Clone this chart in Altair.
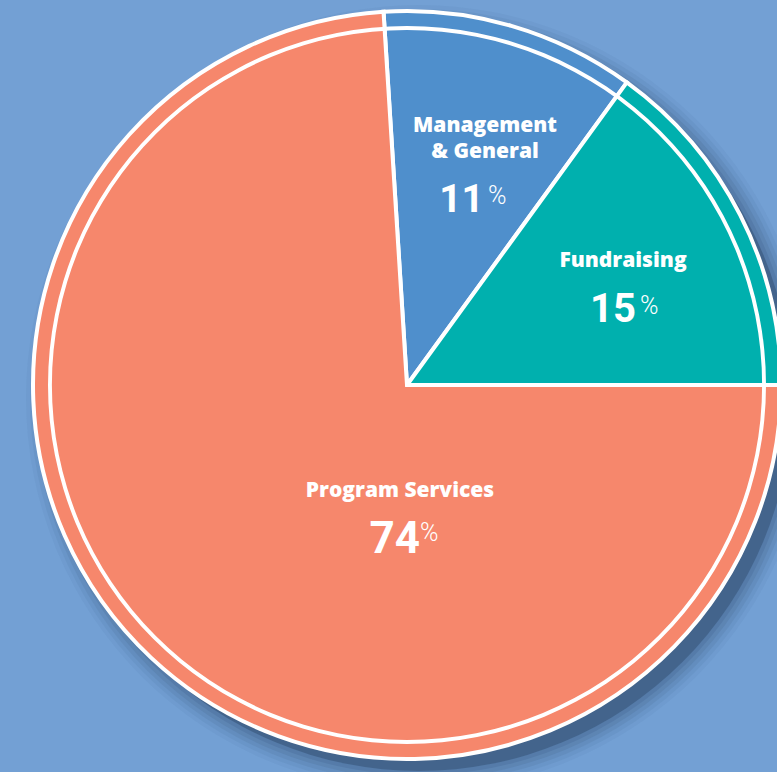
import math
import altair as alt
import pandas as pd

# ---- data ----
categories = ["Management & General", "Fundraising", "Program Services"]
percents = [11, 15, 74]
slice_colors = ["#4F8FCC", "#00B0AE", "#F6876C"]

W, H = 777, 772
CX, CY = 407, 385
R = 374
START = -3.6 * math.pi / 180

df = pd.DataFrame({"category": categories, "value": percents, "order": list(range(len(categories)))})
one = pd.DataFrame({"k": [0]})

# shadow (faked blur with stacked translucent discs)
shadow_layers = []
for r, op in [(373, 0.45), (377, 0.15), (381, 0.12), (385, 0.1), (389, 0.07), (393, 0.05)]:
    shadow_layers.append(
        alt.Chart(one).mark_arc(theta=0, theta2=2 * math.pi, radius=r, color="#2E4A6E", opacity=op)
        .encode(x=alt.value(CX + 12), y=alt.value(CY + 13))
    )

pie = alt.Chart(df).mark_arc(radius=R, stroke="white", strokeWidth=4).encode(
    theta=alt.Theta("value:Q", stack=True, scale=alt.Scale(range=[START, START + 2 * math.pi])),
    order=alt.Order("order:Q"),
    color=alt.Color("category:N", scale=alt.Scale(domain=categories, range=slice_colors), legend=None),
    x=alt.value(CX), y=alt.value(CY),
)

ring = alt.Chart(one).mark_arc(theta=0, theta2=2 * math.pi, radius=359, radius2=355, color="white").encode(
    x=alt.value(CX), y=alt.value(CY)
)

LABEL_FONT = "Open Sans"
NUM_FONT = "Roboto"


def txt(text, x, y, size, font, weight="bold", align="center", baseline="alphabetic"):
    return alt.Chart(one).mark_text(
        text=text, font=font, fontSize=size, fontWeight=weight, color="white", align=align, baseline=baseline
    ).encode(x=alt.value(x), y=alt.value(y))


labels = [
    txt("Management", 485, 132, 21, LABEL_FONT, weight=800),
    txt("& General", 485, 158, 21, LABEL_FONT, weight=800),
    txt(str(percents[0]), 484, 212, 39, NUM_FONT, align="right"),
    txt("%", 488, 184, 25, NUM_FONT, weight=300, align="left", baseline="top"),
    txt("Fundraising", 623, 267, 21, LABEL_FONT, weight=800),
    txt(str(percents[1]), 636, 322, 40, NUM_FONT, align="right"),
    txt("%", 640, 294, 25, NUM_FONT, weight=300, align="left", baseline="top"),
    txt("Program Services", 400, 497, 21, LABEL_FONT, weight=800),
    txt(str(percents[2]), 420, 553, 44, NUM_FONT, align="right"),
    txt("%", 420, 521, 25, NUM_FONT, weight=300, align="left", baseline="top"),
]

chart = alt.layer(*shadow_layers, pie, ring, *labels).properties(
    width=W, height=H, background="#73A0D4", padding=0, autosize=alt.AutoSizeParams(type="none")
).configure_view(stroke=None)

chart.save("out.html", embed_options={"renderer": "svg", "actions": False})
